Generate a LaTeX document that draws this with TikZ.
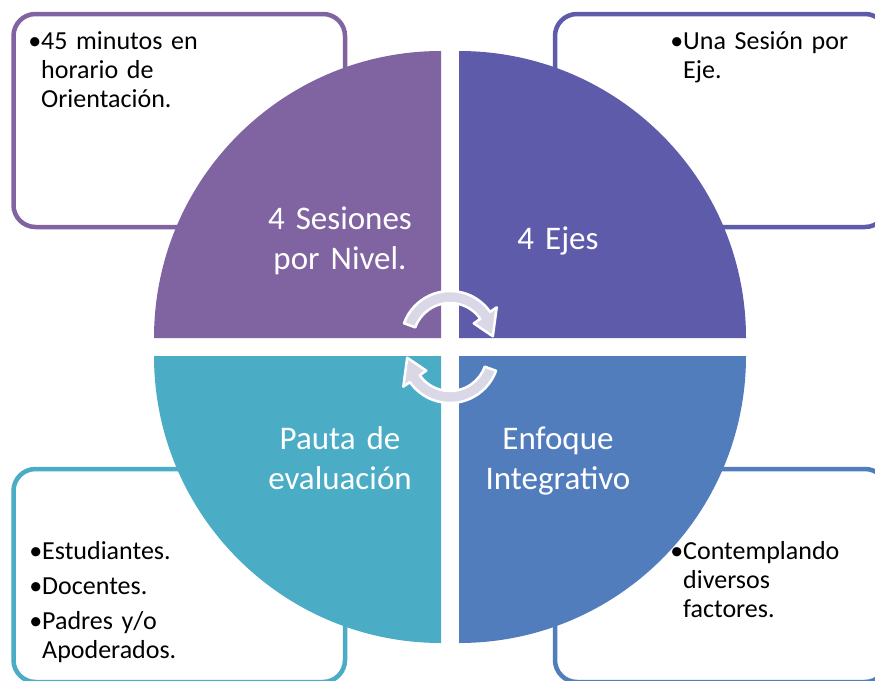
\documentclass[tikz,border=0pt]{standalone}
\usepackage{fontspec}
\setmainfont{Carlito}
\definecolor{qTL}{HTML}{8064A2}
\definecolor{qTR}{HTML}{5F5BAB}
\definecolor{qBL}{HTML}{4BACC6}
\definecolor{qBR}{HTML}{527DBD}
\definecolor{arrowfill}{HTML}{DAD7E7}
\newcommand{\bul}{\leavevmode\llap{•}}
\begin{document}
\begin{tikzpicture}[x=1pt,y=-1pt,
  sidebox/.style={draw=#1, line width=4.5, rounded corners=22, fill=white},
  quad/.style={fill=#1, draw=none},
  bigtext/.style={text=white, font={\fontsize{33}{40}\selectfont}, align=center, text width=220pt, inner sep=0pt, anchor=base},
  smalltext/.style={text=black, font={\fontsize{26}{29}\selectfont}, align=left, text width=200pt, inner sep=0pt, anchor=base west},
  cycarrow/.pic={
    \path[fill=arrowfill, draw=white, line width=2.5, line join=round]
      (200:49) arc[start angle=200, end angle=325, radius=49]
      -- (325:57) -- (355:43) -- (325:29) -- (325:37)
      arc[start angle=325, end angle=200, radius=37] -- cycle;
  }]
\path[use as bounding box, clip] (0,0) rectangle (875,680);
\fill[white] (0,0) rectangle (875,680);

% side boxes
\path[sidebox=qTL] (13.5,14) rectangle (345,227);
\path[sidebox=qTR] (555,14) rectangle (887,227);
\path[sidebox=qBL] (13.5,469) rectangle (345,682);
\path[sidebox=qBR] (555,469) rectangle (887,682);

% quadrants
\path[quad=qTL] (441,338) -- ++(-287,0) arc[start angle=180, end angle=270, radius=287] -- cycle;
\path[quad=qTR] (459,338) -- ++(0,-287) arc[start angle=270, end angle=360, radius=287] -- cycle;
\path[quad=qBR] (459,356) -- ++(287,0) arc[start angle=0, end angle=90, radius=287] -- cycle;
\path[quad=qBL] (441,356) -- ++(0,287) arc[start angle=90, end angle=180, radius=287] -- cycle;

% central cycle arrows
\pic (arrtop) at (450,340) {cycarrow};
\pic[rotate=180] (arrbot) at (450,354) {cycarrow};

% quadrant texts
\node[bigtext] (tTL) at (340,229) {4 Sesiones\\por Nivel.};
\node[bigtext] (tTR) at (558,249) {4 Ejes};
\node[bigtext] (tBL) at (340,449) {Pauta de\\evaluación};
\node[bigtext] (tBR) at (558,449) {Enfoque\\Integrativo};

% side box texts
\node[smalltext] (sTL) at (41,49) {\bul 45 minutos en\\horario de\\Orientación.};
\node[smalltext] (sTR) at (683,49) {\bul Una Sesión por\\Eje.};
\node[smalltext] (sBL) at (42,559) {\bul Estudiantes.\par\vspace{6pt}\bul Docentes.\par\vspace{6pt}\bul Padres y/o\\Apoderados.};
\node[smalltext] (sBR) at (683,559) {\bul Contemplando\\diversos\\factores.};
\end{tikzpicture}
\end{document}
